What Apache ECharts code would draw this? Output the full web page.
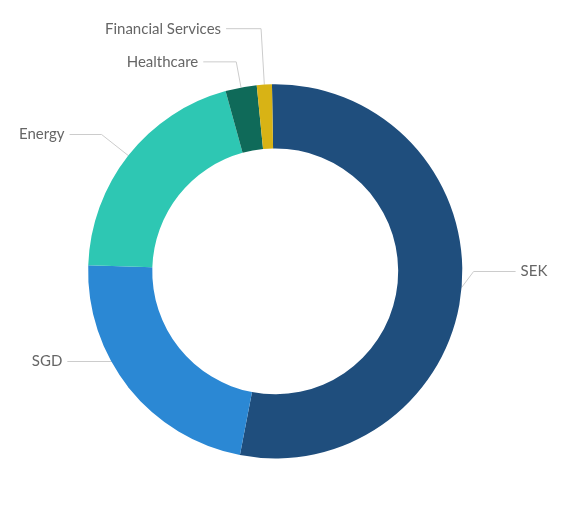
<!DOCTYPE html>
<html>
	<head>
		<meta charset="utf-8" />
		<title>Allocation donut</title>
		<script src="https://cdn.jsdelivr.net/npm/echarts@6/dist/echarts.min.js"></script>
		<style>
			html, body { margin: 0; padding: 0; background: #fff; }
		</style>
	</head>
	<body>
		<div id="main" style="width: 577px;height:530px;"></div>
		<script type="text/javascript">
			// slice names and shares (percent)
			var names = ['SEK', 'SGD', 'Energy', 'Healthcare', 'Financial Services'];
			var shares = [53.3, 22.5, 20.2, 2.7, 1.3];
			var colors = ['#1f4e7d', '#2b88d4', '#2ec7b3', '#0f6a59', '#d8b315'];
			// leader line lengths per slice (first leg, second leg)
			var lineLen = [[12, 42], [15, 50], [34, 32], [26, 33], [56, 35]];
			// vertical nudge of the label (and the bent part of its line)
			var shiftY = [-17, -36, 0, 0, 0];

			var myChart = echarts.init(document.getElementById('main'));
			var pieData = [];
			for (var i = 0; i < names.length; i++) {
				pieData.push({
					name: names[i],
					value: shares[i],
					labelLine: { length: lineLen[i][0], length2: lineLen[i][1] }
				});
			}

			var option = {
				color: colors,
				series: [
					{
						type: 'pie',
						center: ['47.7%', '51.2%'],
						radius: ['46.4%', '70.6%'],
						startAngle: 91,
						clockwise: true,
						avoidLabelOverlap: false,
						label: {
							color: '#666',
							fontSize: 15,
							fontFamily: 'Lato'
						},
						labelLine: {
							lineStyle: { color: '#ccc' }
						},
						labelLayout: function (params) {
							var dy = shiftY[params.dataIndex];
							var pts = params.labelLinePoints;
							if (!dy || !pts) return;
							return {
								dy: dy,
								labelLinePoints: [
									[pts[0][0], pts[0][1]],
									[pts[1][0], pts[1][1] + dy],
									[pts[2][0], pts[2][1] + dy]
								]
							};
						},
						data: pieData
					}
				]
			};
			myChart.setOption(option);
		</script>
	</body>
</html>
